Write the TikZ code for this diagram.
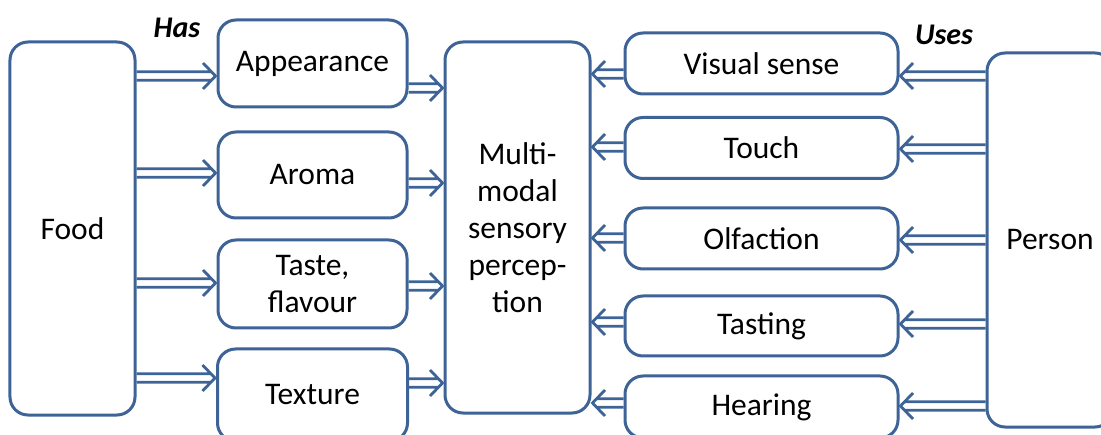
\documentclass[tikz,border=0pt]{standalone}
\usepackage{fontspec}
\setmainfont{Carlito}
\usetikzlibrary{calc}
\definecolor{bl}{RGB}{62,99,150}
\tikzset{
  box/.style={draw=bl, line width=3bp, rounded corners=18bp, fill=white,
    inner sep=0pt, align=center, font=\fontsize{31.5bp}{37bp}\selectfont},
  % hollow block arrow: two shaft lines and an open chevron head
  blk/.style={draw=bl, line width=2.8bp, line join=miter, line cap=butt,
    to path={let \p1=(\tikztostart), \p2=(\tikztotarget), \n1={sign(\x2-\x1)} in
      (\x1,\y1+4.2bp) -- (\x2-\n1*5bp,\y1+4.2bp)
      (\x1,\y1-4.2bp) -- (\x2-\n1*5bp,\y1-4.2bp)
      (\x2-\n1*13.5bp,\y1+13bp) -- (\x2-\n1*1bp,\y1) -- (\x2-\n1*13.5bp,\y1-13bp)}},
  lbl/.style={font=\fontsize{30bp}{32bp}\selectfont\bfseries\itshape}
}
\begin{document}
\begin{tikzpicture}[x=1bp, y=-1bp]
\useasboundingbox (0,0) rectangle (1101,435);
\clip (0,0) rectangle (1101,435);
% left column: food and its properties
\node[box, minimum width=125bp, minimum height=373bp] (food) at (72.5,228.5) {Food};
\node[box, minimum width=189bp, minimum height=87bp] (app) at (312.5,63.5) {Appearance};
\node[box, minimum width=189bp, minimum height=86bp] (aro) at (312.5,175) {Aroma};
\node[box, minimum width=189bp, minimum height=88bp] (tas) at (312.5,284) {Taste,\\flavour};
\node[box, minimum width=190bp, minimum height=92bp] (tex) at (312.5,395) {Texture};
% centre: perception
\node[box, minimum width=145bp, minimum height=371bp] (mm) at (517.5,227.5)
  {Multi-\\modal\\sensory\\percep-\\tion};
% right column: senses and the person
\node[box, minimum width=273bp, minimum height=61bp] (vis) at (761.5,63.5) {Visual sense};
\node[box, minimum width=273bp, minimum height=61bp] (tou) at (761.5,148) {Touch};
\node[box, minimum width=273bp, minimum height=61bp] (olf) at (761.5,238.5) {Olfaction};
\node[box, minimum width=273bp, minimum height=60bp] (tst) at (761.5,326) {Tasting};
\node[box, minimum width=273bp, minimum height=62bp] (hea) at (761.5,407) {Hearing};
\node[box, minimum width=126bp, minimum height=374bp] (per) at (1050,240) {Person};
% labels
\node[lbl] (has) at (177,28) {Has};
\node[lbl] (uses) at (944,35) {Uses};
% food -> properties
\draw[blk] (food.east |- 0,76) to (app.west |- 0,76);
\draw[blk] (food.east |- 0,173) to (aro.west |- 0,173);
\draw[blk] (food.east |- 0,283) to (tas.west |- 0,283);
\draw[blk] (food.east |- 0,378) to (tex.west |- 0,378);
% properties -> perception
\draw[blk] (app.east |- 0,88) to (mm.west |- 0,88);
\draw[blk] (aro.east |- 0,183) to (mm.west |- 0,183);
\draw[blk] (tas.east |- 0,286) to (mm.west |- 0,286);
\draw[blk] (tex.east |- 0,383) to (mm.west |- 0,383);
% senses -> perception
\draw[blk] (vis.west |- 0,74) to (mm.east |- 0,74);
\draw[blk] (tou.west |- 0,147) to (mm.east |- 0,147);
\draw[blk] (olf.west |- 0,238) to (mm.east |- 0,238);
\draw[blk] (tst.west |- 0,322) to (mm.east |- 0,322);
\draw[blk] (hea.west |- 0,403) to (mm.east |- 0,403);
% person -> senses
\draw[blk] (per.west |- 0,76) to (vis.east |- 0,76);
\draw[blk] (per.west |- 0,149) to (tou.east |- 0,149);
\draw[blk] (per.west |- 0,240) to (olf.east |- 0,240);
\draw[blk] (per.west |- 0,324) to (tst.east |- 0,324);
\draw[blk] (per.west |- 0,406) to (hea.east |- 0,406);
\end{tikzpicture}
\end{document}
